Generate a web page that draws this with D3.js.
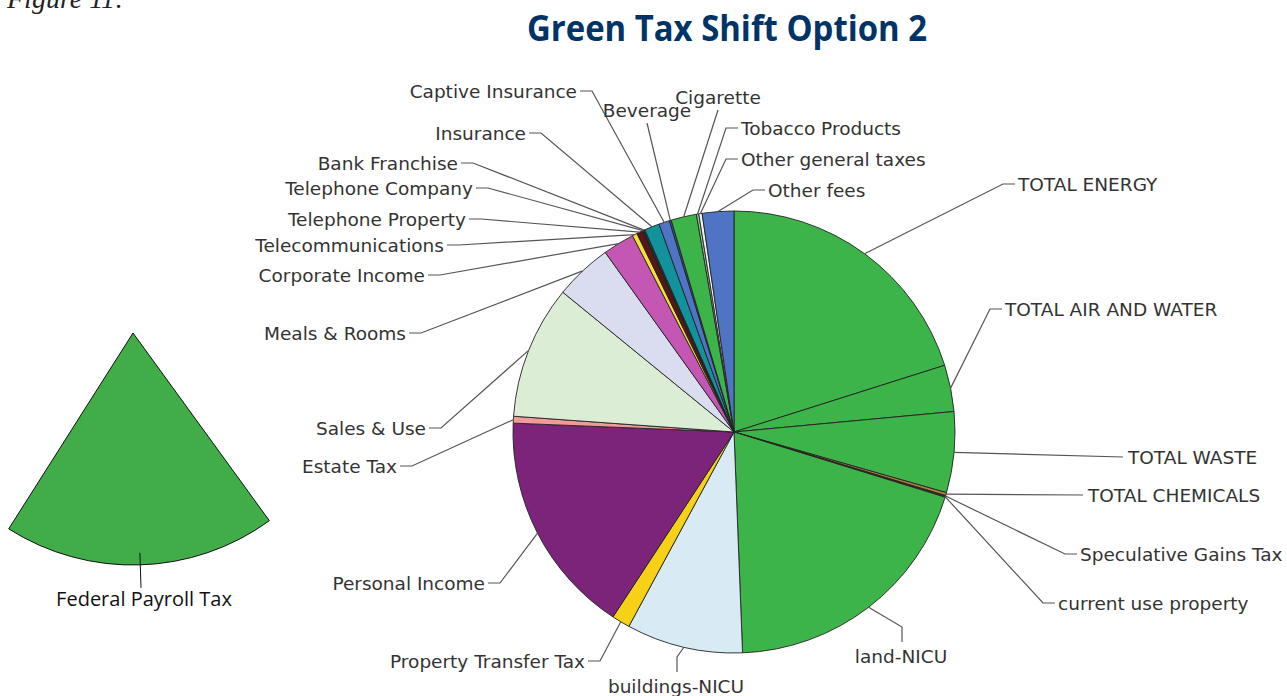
<!DOCTYPE html>
<html>
<head>
<meta charset="utf-8">
<script src="https://cdn.jsdelivr.net/npm/d3@7"></script>
<style>
  body { margin: 0; background: #fff; }
  svg { display: block; }
</style>
</head>
<body>
<script>
// slices, clockwise from 12 o'clock (shares in percent)
const categories = [
  "TOTAL ENERGY", "TOTAL AIR AND WATER", "TOTAL WASTE", "TOTAL CHEMICALS",
  "Speculative Gains Tax", "current use property", "land-NICU", "buildings-NICU",
  "Property Transfer Tax", "Personal Income", "Estate Tax", "Sales & Use",
  "Meals & Rooms", "Corporate Income", "Telecommunications", "Telephone Property",
  "Telephone Company", "Bank Franchise", "Insurance", "Captive Insurance",
  "Beverage", "Cigarette", "Tobacco Products", "Other general taxes", "Other fees"
];
const shares = [
  20.1, 3.4, 5.9, 0.22,
  0.06, 0.06, 19.6, 8.5,
  1.33, 16.4, 0.5, 9.75,
  4.2, 2.3, 0.36, 0.44,
  0.08, 0.11, 1.1, 0.78,
  0.14, 1.86, 0.17, 0.25, 2.3
];
const sliceColors = [
  "#3cb44a", "#3cb44a", "#3cb44a", "#b08040",
  "#7a5a2a", "#c89050", "#3cb44a", "#d8ebf4",
  "#f7d117", "#7c2479", "#f19a9a", "#dcedd6",
  "#dadcf0", "#c456b4", "#f6df3a", "#5b1515",
  "#2a1010", "#0d4f5a", "#12939b", "#4f74c4",
  "#2d5c9a", "#3cb44a", "#9fc79f", "#eef3ee", "#4f74c4"
];

// the separate payroll wedge
const payrollLabel = "Federal Payroll Tax";
const payrollShare = 19;

// label placement: [x, y, anchor, leader style]
const labelLayout = {
  "TOTAL ENERGY": [1018, 184, "start", "h"],
  "TOTAL AIR AND WATER": [1005, 309, "start", "h"],
  "TOTAL WASTE": [1128, 457, "start", "d"],
  "TOTAL CHEMICALS": [1088, 495, "start", "d"],
  "Speculative Gains Tax": [1080, 554, "start", "h"],
  "current use property": [1058, 603, "start", "h"],
  "land-NICU": [901, 656, "middle", "v"],
  "buildings-NICU": [676, 686, "middle", "v"],
  "Property Transfer Tax": [585, 661, "end", "h"],
  "Personal Income": [485, 583, "end", "h"],
  "Estate Tax": [397, 466, "end", "h"],
  "Sales & Use": [426, 428, "end", "h"],
  "Meals & Rooms": [406, 333, "end", "h"],
  "Corporate Income": [425, 275, "end", "h"],
  "Telecommunications": [444, 245, "end", "h"],
  "Telephone Property": [466, 219, "end", "h"],
  "Telephone Company": [473, 188, "end", "h"],
  "Bank Franchise": [458, 163, "end", "h"],
  "Insurance": [526, 133, "end", "h"],
  "Captive Insurance": [577, 91, "end", "h"],
  "Beverage": [647, 110, "middle", "u"],
  "Cigarette": [718, 97, "middle", "u"],
  "Tobacco Products": [741, 128, "start", "h"],
  "Other general taxes": [741, 159, "start", "h"],
  "Other fees": [768, 190, "start", "h"]
};

const width = 1287, height = 696;
const cx = 734, cy = 432, radius = 221;

const svg = d3.select("body").append("svg")
  .attr("width", width)
  .attr("height", height);

// cut-off caption at the very top
svg.append("text")
  .attr("x", 7)
  .attr("y", 8)
  .attr("font-family", "'Liberation Serif', serif")
  .attr("font-style", "italic")
  .attr("font-size", 28)
  .attr("fill", "#222")
  .text("Figure 11:");

svg.append("text")
  .attr("x", 727)
  .attr("y", 41)
  .attr("text-anchor", "middle")
  .attr("font-family", "'Open Sans', sans-serif")
  .attr("font-weight", 700)
  .attr("font-size", 35)
  .attr("textLength", 400)
  .attr("lengthAdjust", "spacingAndGlyphs")
  .attr("fill", "#003466")
  .text("Green Tax Shift Option 2");

// ---- main pie
const data = categories.map((name, i) => ({ name: name, value: shares[i], color: sliceColors[i] }));

const pie = d3.pie()
  .sort(null)
  .value(d => d.value)
  .startAngle(0)
  .endAngle(2 * Math.PI);

const arcs = pie(data);
const arc = d3.arc().innerRadius(0).outerRadius(radius);
const rimArc = d3.arc().innerRadius(radius).outerRadius(radius);

const pieG = svg.append("g").attr("transform", `translate(${cx},${cy})`);

pieG.selectAll("path.slice")
  .data(arcs)
  .join("path")
  .attr("class", "slice")
  .attr("d", arc)
  .attr("fill", d => d.data.color)
  .attr("stroke", "#222")
  .attr("stroke-width", 0.9)
  .attr("stroke-linejoin", "round");

// ---- leaders and labels
const leaderG = svg.append("g");
const labelG = svg.append("g")
  .attr("font-family", "'DejaVu Sans', Verdana, sans-serif")
  .attr("font-size", 18.5)
  .attr("fill", "#333");

function leaderPoints(d) {
  const c = rimArc.centroid(d);
  const start = [cx + c[0], cy + c[1]];
  const [x, y, anchor, mode] = labelLayout[d.data.name];
  const gap = 3, dash = 12;
  if (mode === "h") {
    const s = anchor === "start" ? -1 : 1;
    return [start, [x + s * (gap + dash), y], [x + s * gap, y]];
  }
  if (mode === "d") return [start, [x - 5, y]];
  if (mode === "v") return [start, [x + 1, y - 29], [x + 1, y - 14]];
  return [start, [x, y + 13]];
}

leaderG.selectAll("path")
  .data(arcs)
  .join("path")
  .attr("d", d => d3.line()(leaderPoints(d)))
  .attr("fill", "none")
  .attr("stroke", "#555")
  .attr("stroke-width", 1.2);

labelG.selectAll("text")
  .data(arcs)
  .join("text")
  .attr("x", d => labelLayout[d.data.name][0])
  .attr("y", d => labelLayout[d.data.name][1])
  .attr("dy", "0.36em")
  .attr("text-anchor", d => labelLayout[d.data.name][2])
  .text(d => d.data.name);

// ---- federal payroll wedge on the left
const px = 133, py = 333, pr = 232;
const payrollMid = 178.2 * Math.PI / 180;
const payrollHalf = payrollShare / 100 * Math.PI;
const payrollPie = d3.pie()
  .sort(null)
  .startAngle(payrollMid - payrollHalf)
  .endAngle(payrollMid - payrollHalf + 2 * Math.PI);
const payrollArcs = payrollPie([payrollShare, 100 - payrollShare]);

const payG = svg.append("g").attr("transform", `translate(${px},${py})`);
payG.append("path")
  .attr("d", d3.arc().innerRadius(0).outerRadius(pr)(payrollArcs[0]))
  .attr("fill", "#41ad49")
  .attr("stroke", "#111")
  .attr("stroke-width", 1);

const a = (payrollArcs[0].startAngle + payrollArcs[0].endAngle) / 2;
payG.append("line")
  .attr("x1", (pr - 12) * Math.sin(a))
  .attr("y1", -(pr - 12) * Math.cos(a))
  .attr("x2", (pr + 23) * Math.sin(a))
  .attr("y2", -(pr + 23) * Math.cos(a))
  .attr("stroke", "#111")
  .attr("stroke-width", 1);

svg.append("text")
  .attr("x", 144)
  .attr("y", 606)
  .attr("text-anchor", "middle")
  .attr("font-family", "'Open Sans', sans-serif")
  .attr("font-size", 20)
  .attr("fill", "#111")
  .text(payrollLabel);
</script>
</body>
</html>
